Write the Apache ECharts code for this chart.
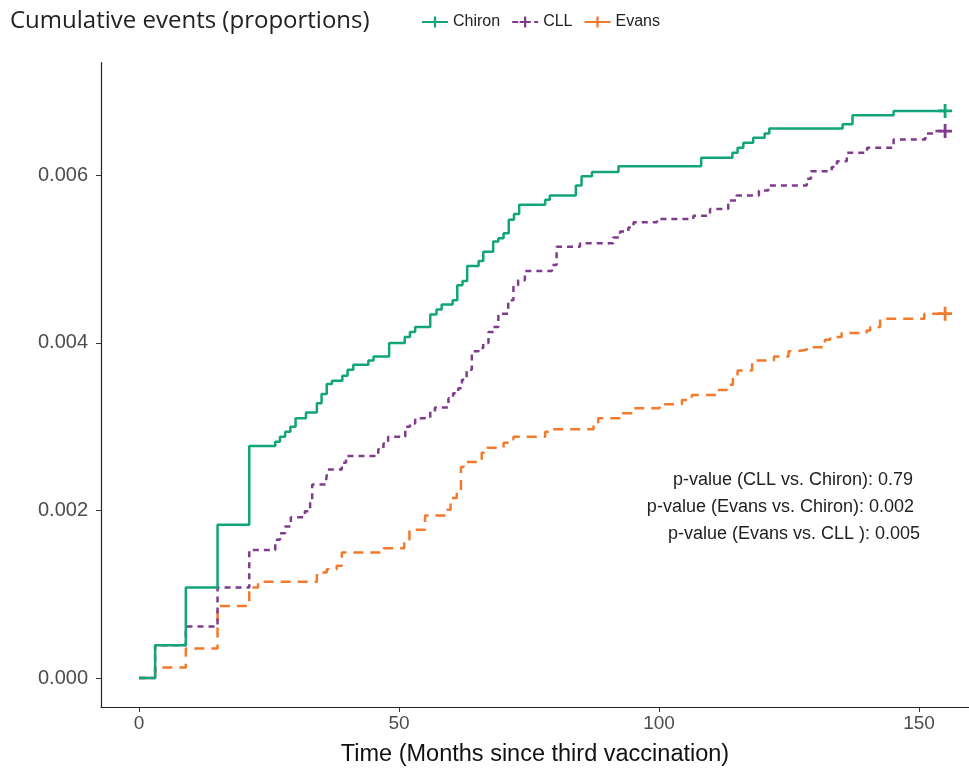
<!DOCTYPE html>
<html><head><meta charset="utf-8">
<script src="https://cdn.jsdelivr.net/npm/echarts@6/dist/echarts.min.js"></script>
<style>html,body{margin:0;padding:0;background:#fff}#c{width:969px;height:772px}</style>
</head><body><div id="c"></div>
<script>
const seriesNames = ['Chiron', 'CLL', 'Evans'];

const chironTime = [0,3.1,9.0,15.1,21.2,26.2,27.1,28.1,29.1,30.1,32.1,34.2,35.1,36.1,37.1,39.1,40.1,41.2,44.1,45.1,48.1,51.1,52.1,53.1,56.0,57.2,58.2,60.3,61.2,62.2,63.1,65.3,66.2,68.1,69.1,70.1,71.1,72.1,73.1,78.1,79.0,84.0,85.1,87.1,92.2,108.1,114.1,115.1,116.2,118.1,120.3,121.2,135.3,137.2,145.1,155.0];
const chironValue = [0,0.00039,0.00108,0.00183,0.00277,0.00282,0.00288,0.00294,0.00300,0.00310,0.00317,0.00328,0.00339,0.00351,0.00355,0.00361,0.00368,0.00374,0.00379,0.00384,0.00400,0.00407,0.00413,0.00419,0.00434,0.00440,0.00446,0.00451,0.00469,0.00474,0.00492,0.00498,0.00509,0.00521,0.00525,0.00531,0.00547,0.00554,0.00565,0.00571,0.00576,0.00588,0.00599,0.00604,0.00611,0.00621,0.00627,0.00633,0.00639,0.00645,0.00650,0.00656,0.00661,0.00672,0.00677,0.00677];

const cllTime = [0,3.1,9.0,15.1,21.2,26.2,27.1,28.1,29.2,31.9,32.9,33.3,36.0,36.3,39.0,39.8,46.0,47.0,47.9,51.2,52.1,53.1,56.0,56.9,59.5,60.4,61.4,62.1,63.0,64.0,65.3,66.2,67.2,68.1,69.1,71.0,72.0,72.9,74.2,79.4,80.3,84.8,91.2,92.5,94.1,95.1,99.6,106.6,109.8,113.3,114.9,119.2,121.0,128.4,129.2,133.2,134.2,136.1,140.0,145.1,151.2,153.1,155.0];
const cllValue = [0,0.00039,0.000615,0.00108,0.00153,0.00165,0.00173,0.00181,0.00192,0.00199,0.00212,0.00231,0.00238,0.00249,0.00257,0.00265,0.00273,0.00280,0.00288,0.00300,0.00304,0.00310,0.00318,0.00323,0.00334,0.00340,0.00346,0.00356,0.00368,0.00390,0.00394,0.00400,0.00413,0.00419,0.00435,0.00451,0.00469,0.00475,0.00486,0.00493,0.00515,0.00519,0.00526,0.00533,0.00538,0.00544,0.00548,0.00552,0.00560,0.00570,0.00576,0.00582,0.00588,0.00596,0.00605,0.00610,0.00617,0.00627,0.00633,0.00643,0.00650,0.00653,0.00653];

const evansTime = [0,3.1,9.0,15.1,21.2,22.9,34.2,36.1,38.0,39.0,47.0,51.0,52.0,55.0,59.0,59.9,61.1,61.9,62.4,65.9,67.0,70.1,71.3,72.0,78.1,79.0,87.4,88.3,93.0,94.9,100.1,104.4,106.3,111.1,113.0,114.2,115.1,117.9,122.1,124.9,126.2,128.4,131.9,132.9,135.1,139.9,140.6,142.5,151.0,155.0];
const evansValue = [0,0.000127,0.000354,0.000861,0.00108,0.00115,0.00126,0.00130,0.00134,0.00150,0.00155,0.00165,0.00177,0.00194,0.00201,0.00215,0.00223,0.00252,0.00258,0.00269,0.00275,0.00281,0.00285,0.00288,0.00294,0.00297,0.00304,0.00310,0.00316,0.00322,0.00327,0.00332,0.00338,0.00344,0.00350,0.00361,0.00367,0.00379,0.00384,0.00390,0.00392,0.00395,0.00404,0.00407,0.00412,0.00415,0.00419,0.00429,0.00435,0.00435];

const xTicks = [0, 50, 100, 150];
const yTicks = [0, 0.002, 0.004, 0.006];
const pValueLines = [
  'p-value (CLL vs. Chiron): 0.79',
  'p-value (Evans vs. Chiron): 0.002',
  'p-value (Evans vs. CLL ): 0.005'
];

const colors = ['#11A579', '#7F3C8D', '#F37A2B'];
const dashes = ['solid', [6, 5], [10, 7]];
const plusPath = 'path://M4,0 H6 V4 H10 V6 H6 V10 H4 V6 H0 V4 H4 Z';

function build(times, values) {
  return times.map((t, i) => {
    const item = { value: [t, values[i]] };
    if (i !== times.length - 1) item.symbol = 'none';
    return item;
  });
}
const allData = [build(chironTime, chironValue), build(cllTime, cllValue), build(evansTime, evansValue)];

const chart = echarts.init(document.getElementById('c'), null, { renderer: 'canvas' });
const font = "'Liberation Sans', Arial, sans-serif";
const annFont = "18px 'Liberation Sans', Arial";
chart.setOption({
  animation: false,
  backgroundColor: '#ffffff',
  title: {
    text: 'Cumulative events (proportions)',
    left: 5, top: 4,
    textStyle: { fontFamily: "'Open Sans', sans-serif", fontSize: 24, fontWeight: 'normal', color: '#222' }
  },
  legend: {
    data: seriesNames,
    left: 416, top: 9,
    itemWidth: 26, itemHeight: 14, itemGap: 11,
    textStyle: { fontFamily: font, fontSize: 16, color: '#222' }
  },
  grid: { left: 101, right: 0, top: 62.7, bottom: 59 },
  xAxis: {
    type: 'value', min: -7.31, max: 159.6,
    name: 'Time (Months since third vaccination)',
    nameLocation: 'middle', nameGap: 36,
    nameTextStyle: { fontFamily: font, fontSize: 23.5, color: '#111' },
    axisLine: { onZero: false, lineStyle: { color: '#222', width: 1.2 } },
    axisTick: { customValues: xTicks, length: 5, lineStyle: { color: '#333' } },
    axisLabel: { customValues: xTicks, fontFamily: font, fontSize: 19, color: '#4D4D4D', margin: 7 },
    splitLine: { show: false }
  },
  yAxis: {
    type: 'value', min: -0.0003457, max: 0.007346,
    axisLine: { show: true, onZero: false, lineStyle: { color: '#222', width: 1.2 } },
    axisTick: { show: true, customValues: yTicks, length: 5, lineStyle: { color: '#333' } },
    axisLabel: { customValues: yTicks, fontFamily: font, fontSize: 20, color: '#4D4D4D', margin: 13,
      formatter: v => v.toFixed(3) },
    splitLine: { show: false }
  },
  series: seriesNames.map((n, i) => ({
    name: n, type: 'line', step: 'end',
    data: allData[i],
    symbol: plusPath, symbolSize: 14, showSymbol: true,
    color: colors[i],
    itemStyle: { color: colors[i] },
    lineStyle: { color: colors[i], width: 2.5, type: dashes[i] },
    z: 3 - i
  })),
  graphic: [
    { type: 'text', x: 913, y: 480, style: { text: pValueLines[0], font: annFont, fill: '#222', align: 'right', verticalAlign: 'middle' } },
    { type: 'text', x: 914, y: 507, style: { text: pValueLines[1], font: annFont, fill: '#222', align: 'right', verticalAlign: 'middle' } },
    { type: 'text', x: 920, y: 534, style: { text: pValueLines[2], font: annFont, fill: '#222', align: 'right', verticalAlign: 'middle' } }
  ]
});
</script></body></html>
